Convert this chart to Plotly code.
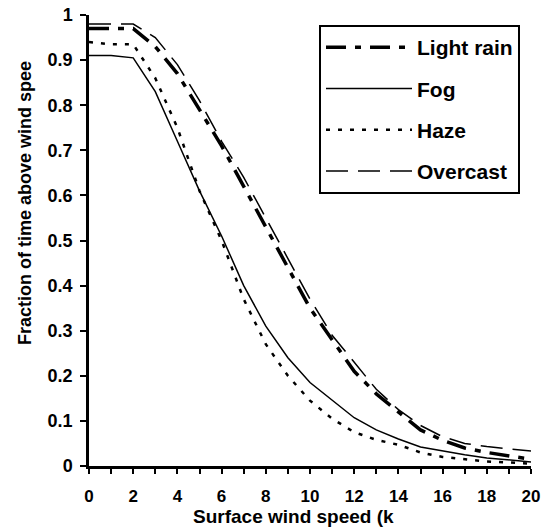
import plotly.graph_objects as go

wind_speed = list(range(0, 21))
x_tick_labels = ["0", "", "2", "", "4", "", "6", "", "8", "", "10", "", "12", "", "14", "", "16", "", "18", "", "20"]
y_tick_vals = [0, 0.1, 0.2, 0.3, 0.4, 0.5, 0.6, 0.7, 0.8, 0.9, 1]
y_tick_labels = ["0", "0.1", "0.2", "0.3", "0.4", "0.5", "0.6", "0.7", "0.8", "0.9", "1"]

light_rain = [0.97, 0.97, 0.97, 0.93, 0.87, 0.79, 0.71, 0.62, 0.53, 0.44, 0.35, 0.28, 0.21, 0.16, 0.12, 0.08, 0.057, 0.04, 0.03, 0.022, 0.015]
fog = [0.91, 0.91, 0.905, 0.83, 0.72, 0.61, 0.51, 0.40, 0.31, 0.24, 0.185, 0.145, 0.107, 0.08, 0.06, 0.042, 0.033, 0.025, 0.018, 0.013, 0.009]
haze = [0.94, 0.935, 0.935, 0.86, 0.75, 0.61, 0.50, 0.37, 0.27, 0.20, 0.145, 0.105, 0.075, 0.058, 0.047, 0.03, 0.02, 0.015, 0.01, 0.008, 0.005]
overcast = [0.98, 0.98, 0.98, 0.95, 0.89, 0.81, 0.72, 0.64, 0.55, 0.46, 0.37, 0.29, 0.23, 0.17, 0.125, 0.09, 0.065, 0.05, 0.043, 0.038, 0.033]

FONT = "Liberation Sans, Arial, sans-serif"
W, H = 549, 527
ML, MR, MT, MB = 89, 18, 15, 61
plot_w = W - ML - MR
plot_h = H - MT - MB

fig = go.Figure()
fig.add_trace(go.Scatter(x=wind_speed, y=light_rain, mode="lines", name="Light rain",
                         legendgroup="a",
                         line=dict(color="black", width=3.5, dash="20px,9px,6px,9px")))
fig.add_trace(go.Scatter(x=wind_speed, y=fog, mode="lines", name="Fog",
                         legendgroup="b",
                         line=dict(color="black", width=1.5)))
fig.add_trace(go.Scatter(x=wind_speed, y=haze, mode="lines", name="Haze",
                         legendgroup="c",
                         line=dict(color="black", width=2.5, dash="4px,8px")))
fig.add_trace(go.Scatter(x=wind_speed, y=overcast, mode="lines", name="Overcast",
                         legendgroup="d",
                         line=dict(color="black", width=1.5, dash="22px,10px")))

fig.update_layout(
    width=W, height=H,
    margin=dict(l=ML, r=MR, t=MT, b=MB, autoexpand=False),
    paper_bgcolor="white", plot_bgcolor="white",
    font=dict(family=FONT, color="black", size=17),
    showlegend=True,
    legend=dict(x=(319 - ML) / plot_w, y=1 - (25 - MT) / plot_h, xanchor="left", yanchor="top",
                bordercolor="black", borderwidth=2, bgcolor="white",
                font=dict(family=FONT, size=21, color="black", weight="bold"),
                itemwidth=86, tracegroupgap=11, traceorder="grouped"),
    xaxis=dict(range=[0, 20], tickmode="array", tickvals=wind_speed, ticktext=x_tick_labels,
               showgrid=False, zeroline=False, showline=True, linecolor="black", linewidth=2.5,
               ticks="outside", ticklen=5, tickwidth=2, tickcolor="black", ticklabelstandoff=8,
               tickfont=dict(family=FONT, size=17, color="black", weight="bold"), fixedrange=True),
    yaxis=dict(range=[0, 1], tickmode="array", tickvals=y_tick_vals, ticktext=y_tick_labels,
               showgrid=False, zeroline=False, showline=True, linecolor="black", linewidth=2.5,
               ticks="outside", ticklen=6, tickwidth=2, tickcolor="black", ticklabelstandoff=4,
               tickfont=dict(family=FONT, size=18, color="black", weight="bold"), fixedrange=True),
    annotations=[
        dict(text="<b>Surface wind speed (k</b>", x=(293 - ML) / plot_w, y=0,
             xref="paper", yref="paper", yanchor="middle", yshift=-(516 - 466),
             showarrow=False, font=dict(family=FONT, size=19, color="black")),
        dict(text="<b>Fraction of time above wind spee</b>", x=0, y=(466 - 203) / plot_h,
             xref="paper", yref="paper", xanchor="center", yanchor="middle", xshift=-(ML - 25),
             showarrow=False, textangle=-90, font=dict(family=FONT, size=18, color="black")),
    ],
)

fig.write_html("out.html", config={"displayModeBar": False},
               post_script="document.body.style.margin='0';document.body.style.overflow='hidden';")
